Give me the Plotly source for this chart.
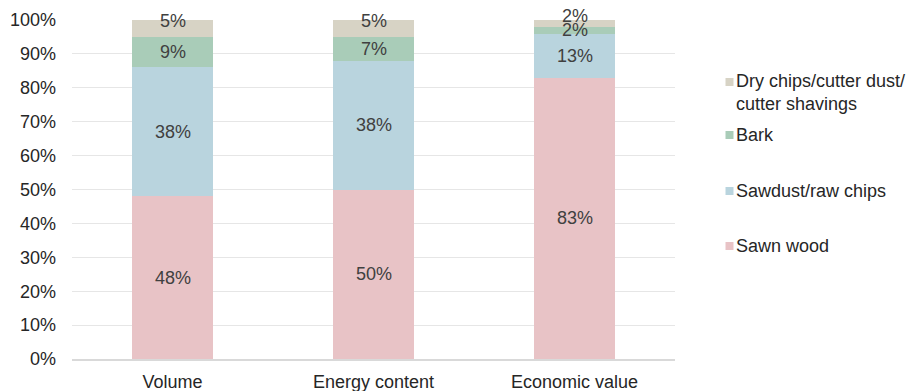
import plotly.graph_objects as go

categories = ["Volume", "Energy content", "Economic value"]

# shares per stream (percent), bottom to top of each stack
sawn_wood = [48, 50, 83]
sawdust_raw_chips = [38, 38, 13]
bark = [9, 7, 2]
dry_chips = [5, 5, 2]

series_names = [
    "Sawn wood",
    "Sawdust/raw chips",
    "Bark",
    "Dry chips/cutter dust/<br>cutter shavings",
]
series_values = [sawn_wood, sawdust_raw_chips, bark, dry_chips]
series_colors = ["#E8C3C6", "#B9D4DE", "#A9CCB8", "#D7D3C5"]

y_ticks = [i / 10 for i in range(11)]
y_tick_text = [f"{i * 10}%" for i in range(11)]

FONT = "Liberation Sans, Arial, sans-serif"
LABEL_COLOR = "#404040"
AXIS_TEXT = "#262626"
FS = 18

fig = go.Figure()
for name, vals, color in zip(series_names, series_values, series_colors):
    fig.add_trace(
        go.Bar(
            x=categories,
            y=[v / 100 for v in vals],
            name=name,
            marker=dict(color=color, line=dict(width=0)),
            showlegend=False,
            hoverinfo="skip",
        )
    )

# data labels at the middle of each stacked segment
annotations = []
base = [0.0] * len(categories)
for idx, vals in enumerate(series_values):
    top_series = idx == len(series_values) - 1
    for j, v in enumerate(vals):
        mid = base[j] + v / 200
        annotations.append(
            dict(
                x=categories[j], y=mid, xref="x", yref="y",
                text=f"{v}%", showarrow=False,
                font=dict(family=FONT, size=FS, color=LABEL_COLOR),
                yshift=7 if top_series else 0,
            )
        )
        base[j] += v / 100

# legend, drawn alongside the plot area (top entry first)
plot_left, plot_right, plot_top, plot_bottom = 72, 675, 20, 359
pw = plot_right - plot_left
ph = plot_bottom - plot_top


def px_x(px):
    return (px - plot_left) / pw


def px_y(py):
    return (plot_bottom - py) / ph


legend_rows = [
    (series_names[3], series_colors[3], 82, 92.5),
    (series_names[2], series_colors[2], 135, 135),
    (series_names[1], series_colors[1], 191, 191),
    (series_names[0], series_colors[0], 246, 246),
]
shapes = []
for label, color, marker_y, text_y in legend_rows:
    shapes.append(
        dict(
            type="rect", xref="paper", yref="paper",
            x0=px_x(725.5), x1=px_x(733.5),
            y0=px_y(marker_y + 4), y1=px_y(marker_y - 4),
            fillcolor=color, line=dict(width=0),
        )
    )
    annotations.append(
        dict(
            x=px_x(734), y=px_y(text_y), xref="paper", yref="paper",
            text=label, showarrow=False, xanchor="left", yanchor="middle",
            align="left",
            font=dict(family=FONT, size=FS, color=AXIS_TEXT),
        )
    )

fig.update_layout(
    barmode="stack",
    bargap=0.6,
    width=912,
    height=391,
    margin=dict(l=plot_left, r=912 - plot_right, t=plot_top, b=391 - plot_bottom),
    paper_bgcolor="white",
    plot_bgcolor="white",
    font=dict(family=FONT, size=FS, color=AXIS_TEXT),
    annotations=annotations,
    shapes=shapes,
    showlegend=False,
)
fig.update_xaxes(
    automargin=False,
    showgrid=False,
    showline=True,
    linecolor="#D9D9D9",
    linewidth=1.5,
    ticks="",
    ticklabelstandoff=6,
    tickfont=dict(family=FONT, size=FS, color=AXIS_TEXT),
)
fig.update_yaxes(
    automargin=False,
    range=[0, 1],
    tickvals=y_ticks,
    ticktext=y_tick_text,
    showgrid=True,
    gridcolor="#E6E6E6",
    gridwidth=1,
    zeroline=False,
    ticks="",
    ticklabelstandoff=15,
    tickfont=dict(family=FONT, size=FS, color=AXIS_TEXT),
)

fig.write_html("out.html")
